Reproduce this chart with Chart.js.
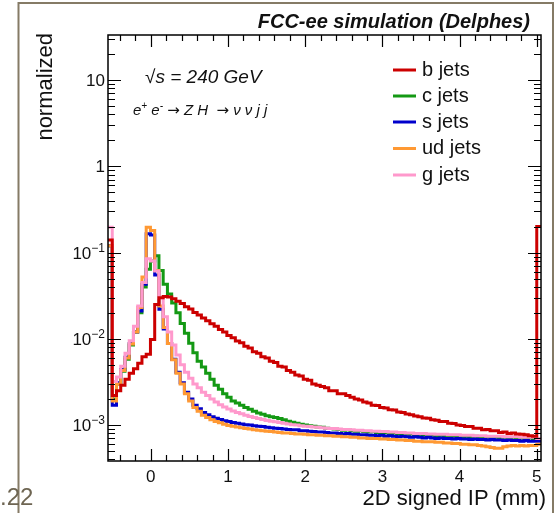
<!DOCTYPE html>
<html>
<head>
<meta charset="utf-8">
<title>2D signed IP</title>
<script src="https://cdn.jsdelivr.net/npm/chart.js@4.4.0/dist/chart.umd.min.js"></script>
<style>
  html, body { margin: 0; padding: 0; background: #fff; }
  #wrap { position: relative; width: 558px; height: 513px; }
</style>
</head>
<body>
<div id="wrap"><canvas id="myChart"></canvas></div>
<script>
// binning: 100 bins from -0.5 to 5 mm, underflow and overflow drawn as extra bins at both ends
const binLow = -0.555;
const binWidth = 0.055;
const nBins = 102;

const flavours = ["b jets", "c jets", "s jets", "ud jets", "g jets"];
const colours = ["#cc0000", "#149914", "#0000cc", "#ff9933", "#ff99cc"];
// drawing order, lower is on top (b on top, c at the bottom)
const layer = [1, 5, 4, 3, 2];

const bJets = [0.14,
  0.0022, 0.0025, 0.0029, 0.0034, 0.0040, 0.0045, 0.0052, 0.0062, 0.0066, 0.0098,
  0.025, 0.030, 0.031, 0.0305, 0.0291, 0.0272, 0.0256, 0.0236, 0.0221, 0.0202,
  0.0189, 0.0174, 0.0162, 0.0149, 0.0140, 0.0128, 0.0120, 0.0109, 0.0103, 0.0094,
  0.0090, 0.0082, 0.0078, 0.0071, 0.0068, 0.0062, 0.0060, 0.0055, 0.0053, 0.0048,
  0.0047, 0.0043, 0.0041, 0.0038, 0.0037, 0.0034, 0.0033, 0.0030, 0.0029, 0.0028,
  0.0027, 0.0025, 0.0025, 0.0023, 0.0023, 0.0022, 0.0021, 0.0020, 0.00195, 0.00185,
  0.00180, 0.00170, 0.00168, 0.00160, 0.00158, 0.00150, 0.00149, 0.00142, 0.00140, 0.00134,
  0.00132, 0.00127, 0.00125, 0.00121, 0.00120, 0.00115, 0.00114, 0.00110, 0.00110, 0.00105,
  0.00104, 0.00100, 0.00099, 0.00096, 0.00096, 0.00092, 0.00092, 0.00088, 0.00089, 0.00086,
  0.00086, 0.00082, 0.00083, 0.00080, 0.00081, 0.00079, 0.00078, 0.00077, 0.00075, 0.00074,
  0.2];

const cJets = [0.12,
  0.0020, 0.0030, 0.0042, 0.0058, 0.0085, 0.012, 0.020, 0.040, 0.064, 0.080,
  0.092, 0.062, 0.043, 0.033, 0.026, 0.020, 0.0150, 0.0116, 0.0089, 0.0069,
  0.0055, 0.0047, 0.0040, 0.0034, 0.0029, 0.0026, 0.0023, 0.0021, 0.0019, 0.0018,
  0.0017, 0.0016, 0.00152, 0.00145, 0.00138, 0.00133, 0.00128, 0.00125, 0.00122, 0.00119,
  0.00115, 0.00111, 0.00108, 0.00105, 0.00102, 0.00100, 0.00098, 0.00097, 0.00095, 0.00094,
  0.00092, 0.00091, 0.00090, 0.00089, 0.00087, 0.00088, 0.00086, 0.00085, 0.00086, 0.00084,
  0.00083, 0.00084, 0.00082, 0.00081, 0.00082, 0.00080, 0.00081, 0.00079, 0.00080, 0.00078,
  0.00079, 0.00077, 0.00078, 0.00076, 0.00077, 0.00076, 0.00075, 0.00076, 0.00074, 0.00075,
  0.00074, 0.00075, 0.00073, 0.00074, 0.00073, 0.00074, 0.00072, 0.00073, 0.00072, 0.00073,
  0.00072, 0.00071, 0.00072, 0.00071, 0.00072, 0.00070, 0.00071, 0.00070, 0.00071, 0.00070,
  0.0007];

const sJets = [0.12,
  0.0017, 0.0031, 0.0044, 0.0061, 0.0088, 0.012, 0.021, 0.043, 0.165, 0.16,
  0.055, 0.022, 0.013, 0.0088, 0.0058, 0.0041, 0.0031, 0.0024, 0.0020, 0.0017,
  0.00155, 0.0014, 0.00132, 0.00125, 0.00120, 0.00116, 0.00112, 0.00110, 0.00107, 0.00105,
  0.00103, 0.00101, 0.00100, 0.00098, 0.00097, 0.00096, 0.00094, 0.00093, 0.00092, 0.00091,
  0.00090, 0.00089, 0.00088, 0.00088, 0.00086, 0.00086, 0.00085, 0.00084, 0.00083, 0.00083,
  0.00082, 0.00081, 0.00081, 0.00080, 0.00079, 0.00080, 0.00078, 0.00078, 0.00077, 0.00077,
  0.00076, 0.00076, 0.00075, 0.00076, 0.00074, 0.00075, 0.00074, 0.00073, 0.00074, 0.00073,
  0.00072, 0.00073, 0.00072, 0.00071, 0.00072, 0.00071, 0.00070, 0.00071, 0.00070, 0.00070,
  0.00069, 0.00070, 0.00069, 0.00069, 0.00068, 0.00069, 0.00068, 0.00068, 0.00067, 0.00068,
  0.00067, 0.00067, 0.00066, 0.00067, 0.00066, 0.00066, 0.00065, 0.00066, 0.00065, 0.00065,
  0.00065];

const udJets = [0.12,
  0.0019, 0.0030, 0.0043, 0.0060, 0.0087, 0.012, 0.023, 0.052, 0.196, 0.18,
  0.062, 0.024, 0.0135, 0.0088, 0.0057, 0.0040, 0.0030, 0.0023, 0.0019, 0.0016,
  0.00145, 0.0013, 0.00122, 0.00115, 0.00110, 0.00106, 0.00102, 0.00099, 0.00097, 0.00095,
  0.00093, 0.00091, 0.00090, 0.00088, 0.00087, 0.00086, 0.00085, 0.00084, 0.00083, 0.00082,
  0.00081, 0.00081, 0.00080, 0.00079, 0.00079, 0.00078, 0.00077, 0.00077, 0.00076, 0.00076,
  0.00075, 0.00075, 0.00074, 0.00074, 0.00073, 0.00073, 0.00072, 0.00072, 0.00071, 0.00071,
  0.00070, 0.00070, 0.00070, 0.00069, 0.00069, 0.00068, 0.00068, 0.00067, 0.00067, 0.00066,
  0.00066, 0.00065, 0.00065, 0.00064, 0.00064, 0.00064, 0.00063, 0.00063, 0.00062, 0.00062,
  0.00061, 0.00061, 0.00060, 0.00060, 0.00059, 0.00059, 0.00058, 0.00057, 0.00056, 0.00055,
  0.00054, 0.00054, 0.00056, 0.00057, 0.00058, 0.00057, 0.00058, 0.00057, 0.00058, 0.00058,
  0.0006];

const gJets = [0.196,
  0.0032, 0.0036, 0.0048, 0.0068, 0.0095, 0.014, 0.024, 0.045, 0.085, 0.080,
  0.061, 0.030, 0.018, 0.012, 0.0085, 0.0065, 0.0050, 0.0041, 0.0035, 0.0030,
  0.0027, 0.0024, 0.0022, 0.0020, 0.00185, 0.00172, 0.00162, 0.00153, 0.00146, 0.00140,
  0.00135, 0.00130, 0.00126, 0.00122, 0.00119, 0.00116, 0.00113, 0.00111, 0.00109, 0.00107,
  0.00105, 0.00103, 0.00101, 0.00100, 0.00098, 0.00097, 0.00096, 0.00095, 0.00094, 0.00093,
  0.00092, 0.00091, 0.00091, 0.00090, 0.00089, 0.00089, 0.00088, 0.00087, 0.00087, 0.00086,
  0.00086, 0.00085, 0.00085, 0.00084, 0.00084, 0.00083, 0.00083, 0.00082, 0.00082, 0.00081,
  0.00081, 0.00080, 0.00080, 0.00080, 0.00079, 0.00079, 0.00078, 0.00078, 0.00078, 0.00077,
  0.00077, 0.00077, 0.00076, 0.00076, 0.00076, 0.00075, 0.00075, 0.00075, 0.00074, 0.00074,
  0.00074, 0.00074, 0.00073, 0.00073, 0.00073, 0.00073, 0.00072, 0.00072, 0.00072, 0.00072,
  0.0007];

const series = [bJets, cJets, sJets, udJets, gJets];

const xTicks = [0, 1, 2, 3, 4, 5];
const xTickLabels = ["0", "1", "2", "3", "4", "5"];
const yDecades = [1e-3, 1e-2, 1e-1, 1, 10];
const yTickLabels = [["10", "\u22123"], ["10", "\u22122"], ["10", "\u22121"], ["1", ""], ["10", ""]];

const yMin = 3.83e-4;
const yMax = 33.3;

// bin edges, one point per edge so the stepped line gives the histogram outline
const edges = [];
for (let i = 0; i <= nBins; i++) edges.push(+(binLow + i * binWidth).toFixed(4));

function histPoints(vals) {
	let pts = vals.map((v, i) => ({ x: edges[i], y: v }));
	pts.push({ x: edges[nBins], y: vals[nBins - 1] });
	return pts;
}

const FONT = '"Liberation Sans", Arial, Helvetica, sans-serif';

// ROOT style frame, ticks and texts
const decor = {
	id: 'decor',
	beforeDraw(chart) {
		const ctx = chart.ctx;
		ctx.save();
		ctx.fillStyle = '#fff';
		ctx.fillRect(0, 0, chart.width, chart.height);
		ctx.restore();
	},
	afterDraw(chart) {
		const ctx = chart.ctx;
		const a = chart.chartArea;
		const xs = chart.scales.x, ys = chart.scales.y;
		ctx.save();

		// slide frame
		ctx.strokeStyle = '#857b66';
		ctx.lineWidth = 2;
		ctx.beginPath();
		ctx.moveTo(18.5, 513); ctx.lineTo(18.5, 3); ctx.lineTo(553, 3); ctx.lineTo(553, 513);
		ctx.stroke();
		ctx.fillStyle = '#6e6552';
		ctx.font = '24px ' + FONT;
		ctx.textAlign = 'left';
		ctx.textBaseline = 'alphabetic';
		ctx.fillText('.22', 0, 505);

		// axis box
		ctx.strokeStyle = '#000';
		ctx.lineWidth = 1.5;
		ctx.strokeRect(a.left, a.top, a.right - a.left, a.bottom - a.top);

		// x ticks, bottom and top
		ctx.lineWidth = 1.2;
		ctx.beginPath();
		for (let v = -0.4; v <= 5.001; v += 0.2) {
			const px = Math.round(xs.getPixelForValue(v)) + 0.5;
			const major = Math.abs(v - Math.round(v)) < 1e-6;
			const len = major ? 12 : 6;
			ctx.moveTo(px, a.bottom); ctx.lineTo(px, a.bottom - len);
			ctx.moveTo(px, a.top); ctx.lineTo(px, a.top + len);
		}
		// y ticks, left and right
		for (let d = -4; d <= 1; d++) {
			for (let m = 1; m <= 9; m++) {
				const v = m * Math.pow(10, d);
				if (v < yMin || v > yMax) continue;
				const py = Math.round(ys.getPixelForValue(v)) + 0.5;
				const len = m === 1 ? 13 : 7;
				ctx.moveTo(a.left, py); ctx.lineTo(a.left + len, py);
				ctx.moveTo(a.right, py); ctx.lineTo(a.right - len, py);
			}
		}
		ctx.stroke();

		// tick labels
		ctx.fillStyle = '#111';
		ctx.font = '17px ' + FONT;
		ctx.textAlign = 'center';
		ctx.textBaseline = 'alphabetic';
		xTicks.forEach((v, i) => {
			ctx.fillText(xTickLabels[i], xs.getPixelForValue(v), 482);
		});
		yDecades.forEach((v, i) => {
			const py = ys.getPixelForValue(v);
			const base = yTickLabels[i][0], sup = yTickLabels[i][1];
			ctx.font = '12px ' + FONT;
			const sw = sup ? ctx.measureText(sup).width : 0;
			ctx.font = '17px ' + FONT;
			const bw = ctx.measureText(base).width;
			const right = a.left - 3;
			ctx.textAlign = 'left';
			ctx.fillText(base, right - sw - bw, py + 6);
			if (sup) {
				ctx.font = '12px ' + FONT;
				ctx.fillText(sup, right - sw, py - 1);
			}
		});

		// axis titles
		ctx.font = '22px ' + FONT;
		ctx.textAlign = 'right';
		ctx.fillText('2D signed IP (mm)', 546, 505);
		ctx.save();
		ctx.translate(51.5, 33);
		ctx.rotate(-Math.PI / 2);
		ctx.fillText('normalized', 0, 0);
		ctx.restore();

		// header
		ctx.font = 'italic bold 20px ' + FONT;
		ctx.textAlign = 'right';
		ctx.fillText('FCC-ee simulation (Delphes)', 530, 28);

		// energy and process
		ctx.textAlign = 'left';
		ctx.font = 'italic 19px ' + FONT;
		ctx.fillText('\u221As = 240 GeV', 145, 83);
		let x0 = 133;
		const part = (txt, font, dy) => {
			ctx.font = font;
			ctx.fillText(txt, x0, 115 + dy);
			x0 += ctx.measureText(txt).width;
		};
		const it = 'italic 15px ' + FONT, sup = 'italic 10px ' + FONT;
		const arrow = '15px "DejaVu Sans", sans-serif';
		part('e', it, 0); part('+', sup, -6); part(' e', it, 0); part('-', sup, -6);
		part(' ', it, 0); part('\u2192', arrow, 0);
		part(' Z H  ', it, 0); part('\u2192', arrow, 0);
		part(' \u03BD \u03BD j j', it, 0);

		// legend
		const rows = [70, 96, 122, 148.5, 175];
		flavours.forEach((name, i) => {
			ctx.strokeStyle = colours[i];
			ctx.lineWidth = 3;
			ctx.beginPath();
			ctx.moveTo(393, rows[i]); ctx.lineTo(416, rows[i]);
			ctx.stroke();
			ctx.fillStyle = '#111';
			ctx.font = '20px ' + FONT;
			ctx.textAlign = 'left';
			ctx.textBaseline = 'middle';
			ctx.fillText(name, 422, rows[i]);
		});
		ctx.restore();
	}
};

const datasets = series.map((vals, i) => ({
	label: flavours[i],
	data: histPoints(vals),
	borderColor: colours[i],
	backgroundColor: colours[i],
	borderWidth: 3,
	stepped: 'before',
	pointRadius: 0,
	fill: false,
	order: layer[i]
}));

var chart = new Chart(document.getElementById('myChart').getContext('2d'), {
	type: 'line',
	data: { datasets: datasets },
	options: {
		responsive: true,
		maintainAspectRatio: false,
		animation: false,
		layout: { padding: { left: 108, right: 17, top: 35, bottom: 52 } },
		plugins: {
			legend: { display: false },
			tooltip: { enabled: false },
			title: { display: false }
		},
		scales: {
			x: { type: 'linear', min: binLow, max: binLow + nBins * binWidth, display: false },
			y: { type: 'logarithmic', min: yMin, max: yMax, display: false }
		}
	},
	plugins: [decor]
});
</script>
</body>
</html>
